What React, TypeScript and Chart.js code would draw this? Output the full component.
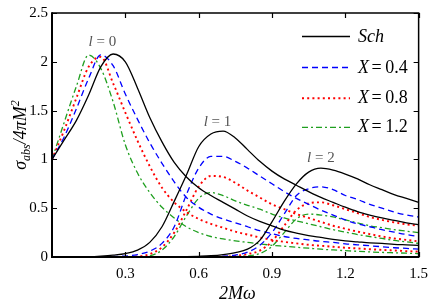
import React, { useEffect, useRef } from 'react';
import { Chart, registerables } from 'chart.js';

Chart.register(...registerables);

// ---------- data ----------
const omega = [0, 0.05, 0.1, 0.15, 0.2, 0.25, 0.3, 0.35, 0.4, 0.45, 0.5, 0.55, 0.6, 0.65, 0.7, 0.75, 0.8, 0.85, 0.9, 0.95, 1.0, 1.05, 1.1, 1.15, 1.2, 1.25, 1.3, 1.35, 1.4, 1.45, 1.5];

const schL0 = [1.0, 1.2, 1.4, 1.66, 1.95, 2.08, 2.0, 1.73, 1.43, 1.18, 0.97, 0.82, 0.71, 0.63, 0.56, 0.49, 0.42, 0.365, 0.32, 0.275, 0.245, 0.22, 0.2, 0.18, 0.165, 0.155, 0.145, 0.14, 0.13, 0.125, 0.12];
const schL1 = [0, 0, 0, 0.003, 0.01, 0.02, 0.035, 0.07, 0.15, 0.31, 0.57, 0.84, 1.13, 1.26, 1.29, 1.22, 1.1, 0.98, 0.88, 0.8, 0.735, 0.67, 0.61, 0.56, 0.51, 0.465, 0.43, 0.4, 0.375, 0.35, 0.33];
const schL2 = [0, 0, 0, 0, 0, 0, 0, 0, 0, 0, 0, 0.003, 0.007, 0.013, 0.025, 0.045, 0.08, 0.17, 0.36, 0.57, 0.75, 0.87, 0.91, 0.89, 0.85, 0.8, 0.74, 0.69, 0.64, 0.6, 0.56];

const x04L0 = [1.0, 1.23, 1.52, 1.83, 2.07, 1.96, 1.67, 1.41, 1.17, 0.96, 0.77, 0.61, 0.51, 0.44, 0.39, 0.35, 0.31, 0.27, 0.24, 0.21, 0.19, 0.175, 0.16, 0.15, 0.135, 0.125, 0.115, 0.105, 0.095, 0.088, 0.08];
const x04L1 = [0, 0, 0, 0, 0.002, 0.005, 0.01, 0.025, 0.06, 0.14, 0.31, 0.64, 0.91, 1.03, 1.03, 0.98, 0.91, 0.83, 0.75, 0.67, 0.6, 0.54, 0.48, 0.43, 0.38, 0.34, 0.31, 0.28, 0.255, 0.23, 0.21];
const x04L2 = [0, 0, 0, 0, 0, 0, 0, 0, 0, 0, 0, 0, 0, 0.003, 0.008, 0.02, 0.05, 0.12, 0.25, 0.44, 0.63, 0.7, 0.72, 0.69, 0.63, 0.59, 0.54, 0.5, 0.46, 0.43, 0.41];

const x08L0 = [1.0, 1.3, 1.63, 1.95, 2.05, 1.78, 1.48, 1.19, 0.93, 0.71, 0.56, 0.46, 0.39, 0.34, 0.3, 0.26, 0.23, 0.2, 0.175, 0.155, 0.14, 0.125, 0.115, 0.105, 0.095, 0.088, 0.08, 0.073, 0.067, 0.06, 0.055];
const x08L1 = [0, 0, 0, 0, 0, 0, 0, 0.005, 0.03, 0.1, 0.25, 0.48, 0.72, 0.83, 0.82, 0.76, 0.68, 0.61, 0.54, 0.49, 0.44, 0.4, 0.36, 0.32, 0.29, 0.26, 0.235, 0.21, 0.19, 0.175, 0.16];
const x08L2 = [0, 0, 0, 0, 0, 0, 0, 0, 0, 0, 0, 0, 0, 0, 0.004, 0.01, 0.03, 0.065, 0.16, 0.32, 0.48, 0.55, 0.56, 0.53, 0.49, 0.45, 0.41, 0.38, 0.355, 0.335, 0.32];

const x12L0 = [1.0, 1.38, 1.75, 2.07, 1.93, 1.59, 1.15, 0.86, 0.66, 0.51, 0.4, 0.31, 0.25, 0.21, 0.185, 0.165, 0.15, 0.135, 0.12, 0.11, 0.1, 0.09, 0.08, 0.072, 0.065, 0.058, 0.052, 0.047, 0.043, 0.039, 0.035];
const x12L1 = [0, 0, 0, 0, 0, 0, 0, 0, 0.012, 0.07, 0.21, 0.42, 0.6, 0.66, 0.63, 0.575, 0.53, 0.49, 0.44, 0.4, 0.37, 0.34, 0.31, 0.28, 0.255, 0.23, 0.21, 0.19, 0.17, 0.155, 0.14];
const x12L2 = [0, 0, 0, 0, 0, 0, 0, 0, 0, 0, 0, 0, 0, 0, 0, 0.004, 0.012, 0.035, 0.11, 0.25, 0.39, 0.44, 0.43, 0.41, 0.38, 0.35, 0.32, 0.3, 0.28, 0.265, 0.25];

const seriesLabels = ['Sch', 'X = 0.4', 'X = 0.8', 'X = 1.2'];
const seriesCurves = [
  [schL0, schL1, schL2],
  [x04L0, x04L1, x04L2],
  [x08L0, x08L1, x08L2],
  [x12L0, x12L1, x12L2],
];
const waveLabels = ['l = 0', 'l = 1', 'l = 2'];
const waveLabelAt = [[0.206, 2.2], [0.677, 1.38], [1.1, 1.01]];
const xTickValues = [0.3, 0.6, 0.9, 1.2, 1.5];
const yTickValues = [0, 0.5, 1, 1.5, 2, 2.5];

// ---------- styles ----------
const seriesColors = ['#000000', '#0000ff', '#ff0000', '#1f9f1f'];
const seriesDash = [[], [6, 4], [2, 3.2], [6, 3, 2, 3]];
const seriesWidths = [1.3, 1.3, 1.9, 1.3];
const SERIF = '"Liberation Serif", "Times New Roman", "DejaVu Serif", serif';

const decor = {
  id: 'decor',
  afterDatasetsDraw(chart: any) {
    const { ctx, chartArea: a, scales } = chart;
    const xs = scales.x;
    const ys = scales.y;
    ctx.save();
    ctx.setLineDash([]);
    ctx.strokeStyle = '#000';
    // frame: thinner top/right, heavier left/bottom
    ctx.lineWidth = 1.5;
    ctx.beginPath();
    ctx.moveTo(a.left, a.top); ctx.lineTo(a.right, a.top); ctx.lineTo(a.right, a.bottom);
    ctx.stroke();
    ctx.lineWidth = 2;
    ctx.beginPath();
    ctx.moveTo(a.left, a.top - 0.75); ctx.lineTo(a.left, a.bottom); ctx.lineTo(a.right + 0.75, a.bottom);
    ctx.stroke();
    const tl = 5;
    ctx.lineWidth = 1.2;
    ctx.beginPath();
    xTickValues.forEach((v) => {
      const px = Math.round(xs.getPixelForValue(v)) + 0.5;
      ctx.moveTo(px, a.bottom); ctx.lineTo(px, a.bottom - tl);
      ctx.moveTo(px, a.top); ctx.lineTo(px, a.top + tl);
    });
    yTickValues.forEach((v) => {
      const py = Math.round(ys.getPixelForValue(v)) + 0.5;
      ctx.moveTo(a.left, py); ctx.lineTo(a.left + tl, py);
      ctx.moveTo(a.right, py); ctx.lineTo(a.right - tl, py);
    });
    ctx.stroke();

    // partial wave labels
    ctx.fillStyle = '#555';
    ctx.textBaseline = 'middle';
    waveLabels.forEach((t, i) => {
      const cx = xs.getPixelForValue(waveLabelAt[i][0]);
      const cy = ys.getPixelForValue(waveLabelAt[i][1]);
      const l = t.slice(0, 1);
      const rest = t.slice(1);
      ctx.font = `italic 15px ${SERIF}`;
      const wl = ctx.measureText(l).width;
      ctx.font = `15px ${SERIF}`;
      const wr = ctx.measureText(rest).width;
      const x0 = cx - (wl + wr) / 2;
      ctx.font = `italic 15px ${SERIF}`;
      ctx.textAlign = 'left';
      ctx.fillText(l, x0, cy);
      ctx.font = `15px ${SERIF}`;
      ctx.fillText(rest, x0 + wl, cy);
    });

    // legend
    const lx0 = 302, lx1 = 350, tx = 358;
    const rows = [36.5, 67.5, 98.3, 127.3];
    ctx.textBaseline = 'alphabetic';
    ctx.textAlign = 'left';
    seriesLabels.forEach((lab, i) => {
      const y = rows[i];
      ctx.save();
      ctx.strokeStyle = seriesColors[i];
      ctx.lineWidth = seriesWidths[i];
      ctx.setLineDash(seriesDash[i]);
      ctx.beginPath();
      ctx.moveTo(lx0, y); ctx.lineTo(lx1, y);
      ctx.stroke();
      ctx.restore();
      ctx.fillStyle = '#000';
      const base = y + 5;
      if (lab.startsWith('X')) {
        const val = lab.split('=')[1].trim();
        ctx.font = `italic 18px ${SERIF}`;
        ctx.fillText('X', tx, base);
        let x = tx + ctx.measureText('X').width + 2.5;
        ctx.font = `18px ${SERIF}`;
        ctx.fillText('=', x, base);
        x += ctx.measureText('=').width + 3.5;
        ctx.fillText(val, x, base);
      } else {
        ctx.font = `italic 18px ${SERIF}`;
        ctx.fillText(lab, tx, base);
      }
    });

    // x title
    ctx.font = `italic 18px ${SERIF}`;
    ctx.textAlign = 'center';
    ctx.fillText('2M\u03C9', (a.left + a.right) / 2 + 2, 299);

    // y title (rotated)
    ctx.save();
    ctx.translate(20, (a.top + a.bottom) / 2);
    ctx.rotate(-Math.PI / 2);
    ctx.textAlign = 'left';
    const parts: [string, string, number][] = [
      ['\u03C3', `italic 18px ${SERIF}`, 0],
      ['abs', `italic 12px ${SERIF}`, 4],
      ['/4\u03C0M', `italic 18px ${SERIF}`, 0],
      ['2', `italic 12px ${SERIF}`, -7],
    ];
    let total = 0;
    parts.forEach(([t, f]) => { ctx.font = f; total += ctx.measureText(t).width; });
    let px = -total / 2;
    parts.forEach(([t, f, dy]) => {
      ctx.font = f;
      ctx.fillText(t, px, 6 + dy);
      px += ctx.measureText(t).width;
    });
    ctx.restore();

    ctx.restore();
  },
};

export default function App() {
  const ref = useRef<HTMLCanvasElement | null>(null);
  useEffect(() => {
    document.body.style.margin = '0';
    let chart: any = null;
    let cancelled = false;
    const build = () => {
      if (cancelled || !ref.current) return;
      const datasets: any[] = [];
      seriesCurves.forEach((curves, s) => {
        curves.forEach((vals, l) => {
          datasets.push({
            label: l === 0 ? seriesLabels[s] : `${seriesLabels[s]} (${waveLabels[l]})`,
            data: omega.map((w, i) => ({ x: w, y: vals[i] })),
            borderColor: seriesColors[s],
            borderWidth: seriesWidths[s],
            borderDash: seriesDash[s],
            pointRadius: 0,
            fill: false,
            cubicInterpolationMode: 'monotone',
          });
        });
      });
      chart = new Chart(ref.current, {
        type: 'line',
        data: { datasets },
        options: {
          animation: false,
          responsive: false,
          devicePixelRatio: 1,
          layout: { padding: { left: 0, right: 12, top: 9, bottom: 0 }, autoPadding: false },
          plugins: { legend: { display: false }, tooltip: { enabled: false }, title: { display: false } },
          scales: {
            x: {
              type: 'linear',
              min: 0,
              max: 1.5,
              afterFit: (s: any) => { s.height = 50; },
              afterBuildTicks: (s: any) => { s.ticks = [0, ...xTickValues].map((v) => ({ value: v })); },
              grid: { display: false, drawTicks: false },
              border: { display: false },
              ticks: {
                autoSkip: false,
                maxRotation: 0,
                padding: 8,
                color: '#000',
                font: { family: SERIF, size: 15 },
                callback: (v: any) => (Number(v) === 0 ? '' : Number(v).toFixed(1)),
              },
            },
            y: {
              type: 'linear',
              min: 0,
              max: 2.5,
              afterFit: (s: any) => { s.width = 52; },
              afterBuildTicks: (s: any) => { s.ticks = yTickValues.map((v) => ({ value: v })); },
              grid: { display: false, drawTicks: false },
              border: { display: false },
              ticks: {
                padding: 4,
                color: '#000',
                font: { family: SERIF, size: 15 },
                callback: (v: any) => String(Math.round(Number(v) * 10) / 10),
              },
            },
          },
        },
        plugins: [decor],
      } as any);
    };
    const fonts: any = (document as any).fonts;
    if (fonts && fonts.load) {
      Promise.all([
        fonts.load('15px "Liberation Serif"'),
        fonts.load('italic 18px "Liberation Serif"'),
      ]).then(build, build);
    } else {
      build();
    }
    return () => {
      cancelled = true;
      if (chart) chart.destroy();
    };
  }, []);
  return <canvas ref={ref} width={436} height={307} style={{ display: 'block' }} />;
}
